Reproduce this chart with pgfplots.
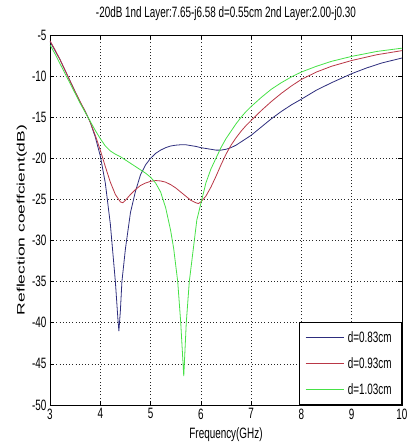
\documentclass[border=0pt]{standalone}
\usepackage{fontspec}
\setmainfont{Liberation Sans}
\newfontfamily\narrow{Liberation Sans}[FakeStretch=0.66]
\usepackage{pgfplots}
\pgfplotsset{compat=1.18}
\definecolor{cblue}{RGB}{45,45,125}
\definecolor{cred}{RGB}{185,55,70}
\definecolor{cgreen}{RGB}{70,225,70}
\begin{document}
\begin{tikzpicture}
\useasboundingbox (-50pt,-37pt) rectangle (357pt,405pt);
\begin{axis}[
  at={(0pt,0pt)}, anchor=south west,
  scale only axis, width=352pt, height=370pt,
  xmin=3, xmax=10, ymin=-50, ymax=-5,
  xtick={3,4,...,10}, ytick={-50,-45,...,-5},
  /pgf/number format/assume math mode=true,
  ticklabel style={font=\narrow\fontsize{15}{15}\selectfont},
  tick align=inside, major tick length=4pt, tick style={black, line width=0.6pt},
  axis line style={black, line width=0.8pt},
  grid=major,
  major grid style={black!85, line width=0.7pt, dash pattern=on 0.9pt off 2.3pt},
  title={-20dB 1nd Layer:7.65-j6.58 d=0.55cm 2nd Layer:2.00-j0.30},
  title style={font=\narrow\fontsize{15}{15}\selectfont, at={(axis description cs:0.5,1.042)}, anchor=center},
  xlabel={Frequency(GHz)},
  xlabel style={font=\narrow\fontsize{15}{15}\selectfont, at={(axis description cs:0.5,-0.081)}, anchor=center},
  ylabel={\scalebox{1}[0.62]{Reflection coeffcient(dB)}},
  ylabel style={font=\fontsize{17.5}{17.5}\selectfont, at={(axis description cs:-0.08,0.5)}, anchor=center},
  legend style={at={(1,0)}, anchor=south east, draw=black, line width=0.6pt, fill=white,
    font=\narrow\fontsize{15}{15}\selectfont, inner xsep=6pt, inner ysep=7pt, row sep=9.5pt,
    nodes={inner xsep=4pt, inner ysep=2pt}},
  legend cell align=left,
  legend image code/.code={\draw[#1, line width=0.8pt] (0pt,0pt) -- (38pt,0pt);},
]
\addplot[cblue, line width=0.8pt] coordinates {
(3.0,-5.8) (3.1,-6.9) (3.2,-8.0) (3.3,-9.3) (3.4,-10.6) (3.5,-11.9) (3.6,-13.2) (3.7,-14.3)
(3.8,-15.6) (3.9,-17.4) (4.0,-19.7) (4.1,-23.0) (4.2,-28.0) (4.25,-31.5) (4.3,-35.0) (4.35,-39.5)
(4.37,-41.0) (4.4,-38.5) (4.43,-35.0) (4.5,-31.0) (4.6,-26.6) (4.7,-24.0) (4.8,-22.0) (4.9,-20.8)
(5.0,-20.0) (5.1,-19.4) (5.2,-19.0) (5.3,-18.7) (5.4,-18.5) (5.5,-18.4) (5.6,-18.35) (5.7,-18.35)
(5.8,-18.45) (5.9,-18.55) (6.0,-18.7) (6.1,-18.8) (6.2,-18.9) (6.3,-19.0) (6.4,-19.0) (6.5,-18.9)
(6.6,-18.7) (6.7,-18.4) (6.8,-18.0) (6.9,-17.6) (7.0,-17.2) (7.2,-16.2) (7.4,-15.2) (7.6,-14.3)
(7.8,-13.5) (8.0,-12.8) (8.3,-11.7) (8.6,-10.8) (9.0,-9.7) (9.3,-9.0) (9.6,-8.4) (10.0,-7.8)
};
\addlegendentry{d=0.83cm}
\addplot[cred, line width=0.8pt] coordinates {
(3.0,-5.7) (3.1,-6.8) (3.2,-8.0) (3.3,-9.3) (3.4,-10.6) (3.5,-11.9) (3.6,-13.1) (3.7,-14.3)
(3.8,-15.6) (3.9,-17.2) (4.0,-19.0) (4.1,-21.0) (4.2,-22.9) (4.3,-24.4) (4.4,-25.3) (4.45,-25.4)
(4.5,-25.1) (4.6,-24.4) (4.7,-23.8) (4.8,-23.3) (4.9,-23.0) (5.0,-22.8) (5.1,-22.7) (5.2,-22.75)
(5.3,-22.9) (5.4,-23.2) (5.5,-23.6) (5.6,-24.1) (5.7,-24.6) (5.8,-25.1) (5.9,-25.4) (5.95,-25.5)
(6.0,-25.3) (6.1,-24.6) (6.2,-23.5) (6.3,-22.2) (6.4,-20.8) (6.5,-19.5) (6.6,-18.4) (6.7,-17.5)
(6.8,-16.7) (6.9,-16.0) (7.0,-15.4) (7.2,-14.2) (7.4,-13.1) (7.6,-12.1) (7.8,-11.2) (8.0,-10.4)
(8.3,-9.5) (8.6,-8.8) (9.0,-8.1) (9.5,-7.4) (10.0,-6.9)
};
\addlegendentry{d=0.93cm}
\addplot[cgreen, line width=0.8pt] coordinates {
(3.0,-6.2) (3.1,-7.3) (3.2,-8.5) (3.3,-9.7) (3.4,-10.9) (3.5,-12.1) (3.6,-13.3) (3.7,-14.4)
(3.8,-15.5) (3.9,-16.6) (4.0,-17.6) (4.1,-18.5) (4.2,-19.1) (4.3,-19.5) (4.4,-19.8) (4.5,-20.2)
(4.6,-20.6) (4.7,-21.0) (4.8,-21.4) (4.9,-21.8) (5.0,-22.3) (5.1,-23.0) (5.2,-24.1) (5.3,-26.0)
(5.4,-28.8) (5.46,-31.0) (5.5,-33.0) (5.54,-35.0) (5.6,-40.0) (5.66,-46.5) (5.71,-40.0) (5.77,-35.0)
(5.85,-31.0) (5.92,-27.5) (6.0,-25.5) (6.1,-23.0) (6.2,-21.3) (6.3,-20.0) (6.4,-18.7) (6.5,-17.6)
(6.6,-16.7) (6.7,-15.8) (6.8,-15.0) (6.9,-14.3) (7.0,-13.7) (7.2,-12.6) (7.4,-11.6) (7.6,-10.8)
(7.8,-10.1) (8.0,-9.5) (8.3,-8.8) (8.6,-8.2) (9.0,-7.6) (9.5,-7.0) (10.0,-6.6)
};
\addlegendentry{d=1.03cm}
\end{axis}
\end{tikzpicture}
\end{document}
